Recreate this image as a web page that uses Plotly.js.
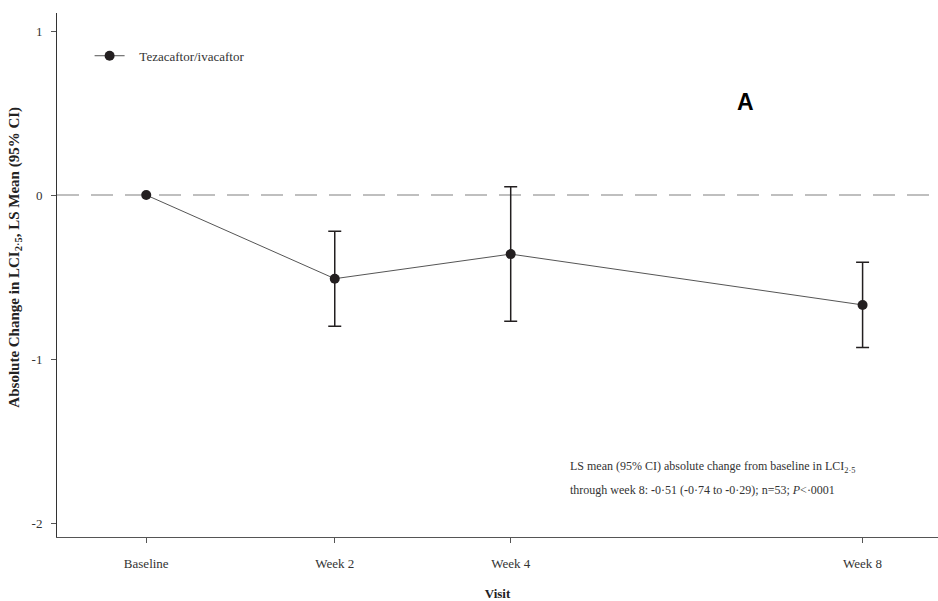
<!DOCTYPE html>
<html>
<head>
<meta charset="utf-8">
<script src="https://cdn.plot.ly/plotly-3.0.1.min.js"></script>
<style>html,body{margin:0;padding:0;background:#fff;}#chart{width:938px;height:601px;}</style>
</head>
<body>
<div id="chart"></div>
<script>
// Visits and their study day positions
const visits = ["Baseline", "Week 2", "Week 4", "Week 8"];
const visitDay = [0, 15, 29, 57];
// LS mean absolute change in LCI2.5 and 95% CI
const lsMean = [0, -0.51, -0.36, -0.67];
const ciUpper = [null, -0.22, 0.05, -0.41];
const ciLower = [null, -0.80, -0.77, -0.93];
const seriesName = "Tezacaftor/ivacaftor";
const yTicks = [-2, -1, 0, 1];
const yTickText = ["-2", "-1", "0", "1"];

const errPlus = lsMean.map((m, i) => ciUpper[i] === null ? NaN : ciUpper[i] - m);
const errMinus = lsMean.map((m, i) => ciLower[i] === null ? NaN : m - ciLower[i]);

const serif = "Liberation Serif, Times New Roman, serif";

const traces = [{
  x: visitDay,
  y: lsMean,
  name: "&nbsp;&nbsp;&nbsp;" + seriesName,
  type: "scatter",
  mode: "lines+markers",
  line: {color: "#555555", width: 1},
  marker: {color: "#231f20", size: 10},
  error_y: {
    type: "data", symmetric: false,
    array: errPlus, arrayminus: errMinus,
    color: "#231f20", thickness: 1.5, width: 6.5
  }
}];

const layout = {
  width: 938, height: 601,
  margin: {l: 57, r: 0, t: 13, b: 64},
  paper_bgcolor: "#ffffff", plot_bgcolor: "#ffffff",
  font: {family: serif, size: 13, color: "#333333"},
  showlegend: true,
  legend: {x: 0.037, y: 0.947, xanchor: "left", yanchor: "top",
           font: {family: serif, size: 13, color: "#333333"}, bgcolor: "rgba(0,0,0,0)"},
  xaxis: {
    range: [-7.1, 63], tickmode: "array", tickvals: visitDay, ticktext: visits,
    showgrid: false, zeroline: false, showline: true, linecolor: "#555555", linewidth: 1,
    ticks: "outside", ticklen: 5, tickcolor: "#555555", ticklabelstandoff: 9,
    tickfont: {family: serif, size: 13, color: "#333333"},
    title: {text: "<b>Visit</b>", font: {family: serif, size: 13, color: "#222222"}, standoff: 24}
  },
  yaxis: {
    range: [-2.085, 1.11], tickmode: "array", tickvals: yTicks, ticktext: yTickText,
    showgrid: false, zeroline: false, showline: true, linecolor: "#333333", linewidth: 1,
    ticks: "outside", ticklen: 5, tickcolor: "#555555", ticklabelstandoff: 6,
    tickfont: {family: serif, size: 13, color: "#333333"}
  },
  shapes: [{
    type: "line", xref: "paper", x0: 0, x1: 1, yref: "y", y0: 0, y1: 0,
    line: {color: "#aaaaaa", width: 1.5, dash: "22px,12px"}, layer: "below"
  }],
  annotations: [
    {text: "<b>Absolute Change in LCI<sub>2·5</sub>, LS Mean (95% CI)</b>",
     xref: "paper", yref: "paper", x: -0.0477, y: 0.535, textangle: -90,
     xanchor: "center", yanchor: "middle", showarrow: false,
     font: {family: serif, size: 15, color: "#222222"}},
    {text: "<b>A</b>", xref: "paper", yref: "paper", x: 0.781, y: 0.83,
     xanchor: "center", yanchor: "middle", showarrow: false,
     font: {family: "Liberation Sans, Arial, sans-serif", size: 23, color: "#000000"}},
    {text: "LS mean (95% CI) absolute change from baseline in LCI<sub>2·5</sub>",
     xref: "paper", yref: "paper", x: 0.58, y: 0.133, xanchor: "left", yanchor: "middle",
     align: "left", showarrow: false,
     font: {family: serif, size: 12, color: "#333333"}},
    {text: "through week 8: <b>-</b>0·51 (<b>-</b>0·74 to <b>-</b>0·29); n=53; <i>P</i><·0001",
     xref: "paper", yref: "paper", x: 0.58, y: 0.089, xanchor: "left", yanchor: "middle",
     align: "left", showarrow: false,
     font: {family: serif, size: 12, color: "#333333"}}
  ]
};

Plotly.newPlot("chart", traces, layout, {displayModeBar: false, staticPlot: true});
</script>
</body>
</html>
